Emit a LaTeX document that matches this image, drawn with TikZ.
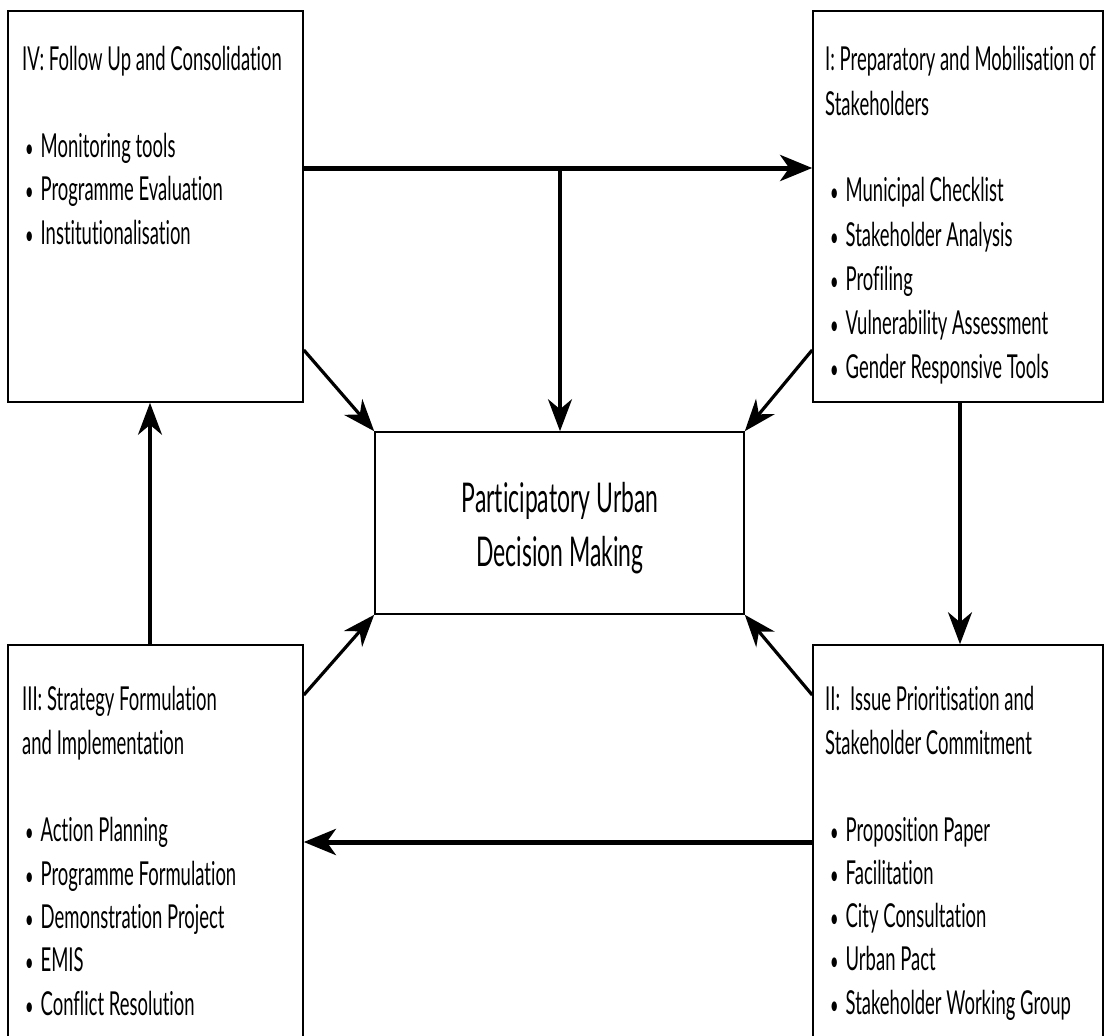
\documentclass[tikz,border=0pt]{standalone}
\usepackage{fontspec}
\setmainfont{Lato}[FakeStretch=0.56,Ligatures=NoCommon]
\usetikzlibrary{arrows.meta}
\newcommand{\bul}{{\fontsize{26}{30}\selectfont\textbullet}\hspace{7pt}}
\begin{document}
\begin{tikzpicture}[x=1pt,y=-1pt,
  box/.style={draw, line width=1.6pt, inner sep=0pt},
  txt/.style={anchor=base west, inner sep=0pt, font=\fontsize{33}{40}\selectfont},
  ctxt/.style={anchor=base, inner sep=0pt, font=\fontsize{41}{50}\selectfont},
  big/.style={line width=5pt, -{Stealth[length=32pt,width=26pt,inset=9pt]}},
  med/.style={line width=3.2pt, -{Stealth[length=32pt,width=24pt,inset=10pt]}}]
\useasboundingbox (0,0) rectangle (1111,1036);
\clip (0,0) rectangle (1111,1036);
% boxes
\node[box, minimum width=295pt, minimum height=391pt] (iv) at (155.5,206.5) {};
\node[box, minimum width=290pt, minimum height=391pt] (i) at (958,206.5) {};
\node[box, minimum width=369pt, minimum height=182pt] (c) at (559.5,523) {};
\node[box, minimum width=295pt, minimum height=400pt] (iii) at (155.5,845) {};
\node[box, minimum width=290pt, minimum height=400pt] (ii) at (958,845) {};
% texts IV
\node[txt] (iv0) at (22,70) {IV: Follow Up and Consolidation};
\node[txt] (iv1) at (25,157) {\bul Monitoring tools};
\node[txt] (iv2) at (25,200) {\bul Programme Evaluation};
\node[txt] (iv3) at (25,244) {\bul Institutionalisation};
% texts I
\node[txt] (i0) at (825,70) {I: Preparatory and Mobilisation of};
\node[txt] (i0b) at (825,115) {Stakeholders};
\node[txt] (i1) at (830,201) {\bul Municipal Checklist};
\node[txt] (i2) at (830,246) {\bul Stakeholder Analysis};
\node[txt] (i3) at (830,290) {\bul Profiling};
\node[txt] (i4) at (830,334) {\bul Vulnerability Assessment};
\node[txt] (i5) at (830,378) {\bul Gender Responsive Tools};
% centre
\node[ctxt] (c1) at (560,512) {Participatory Urban};
\node[ctxt] (c2) at (560,566) {Decision Making};
% texts III
\node[txt] (iii0) at (22,710) {III: Strategy Formulation};
\node[txt] (iii0b) at (22,754) {and Implementation};
\node[txt] (iii1) at (25,841) {\bul Action Planning};
\node[txt] (iii2) at (25,885) {\bul Programme Formulation};
\node[txt] (iii3) at (25,928) {\bul Demonstration Project};
\node[txt] (iii4) at (25,971) {\bul EMIS};
\node[txt] (iii5) at (25,1015) {\bul Conflict Resolution};
% texts II
\node[txt] (ii0) at (825,710) {II:\hspace{10pt}Issue Prioritisation and};
\node[txt] (ii0b) at (825,754) {Stakeholder Commitment};
\node[txt] (ii1) at (830,841) {\bul Proposition Paper};
\node[txt] (ii2) at (830,884) {\bul Facilitation};
\node[txt] (ii3) at (830,927) {\bul City Consultation};
\node[txt] (ii4) at (830,970) {\bul Urban Pact};
\node[txt] (ii5) at (830,1014) {\bul Stakeholder Working Group};
% connectors
\coordinate (j) at (560,168);
\draw[big] (iv.east |- j) -- (i.west |- j);
\draw[med] (j) -- (j |- c.north);
\draw[med] (iv.east |- 0,350) -- (c.north west);
\draw[med] (i.west |- 0,350) -- (c.north east);
\draw[med] (iii.east |- 0,695) -- (c.south west);
\draw[med] (ii.west |- 0,695) -- (c.south east);
\draw[med] (i.south -| 960,0) -- (ii.north -| 960,0);
\draw[big] (ii.west |- 0,842) -- (iii.east |- 0,842);
\draw[med] (iii.north -| 150,0) -- (iv.south -| 150,0);
\end{tikzpicture}
\end{document}
